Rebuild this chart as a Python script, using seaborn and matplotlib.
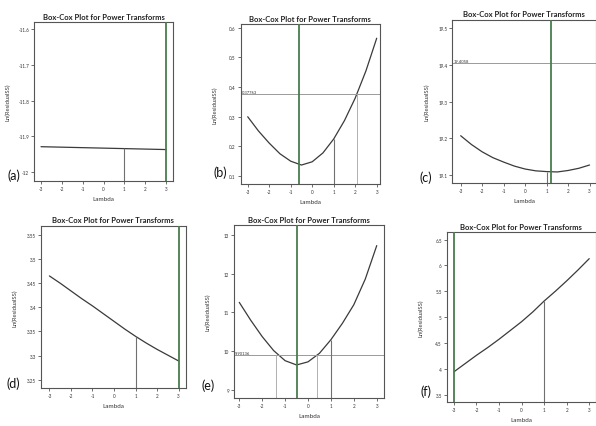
import numpy as np
import pandas as pd
import matplotlib
matplotlib.use("Agg")
import matplotlib.pyplot as plt
import seaborn as sns

# ---------------- data ----------------
lam = [-3, -2.5, -2, -1.5, -1, -0.5, 0, 0.5, 1, 1.5, 2, 2.5, 3]
lam_a = [-3, 0, 3]
ss_a = [-11.929, -11.933, -11.937]
ss_b = [0.300, 0.252, 0.211, 0.175, 0.150, 0.137, 0.148, 0.178, 0.225, 0.287, 0.363, 0.455, 0.565]
ss_c = [19.207, 19.183, 19.163, 19.147, 19.135, 19.124, 19.116, 19.111, 19.109, 19.108, 19.112, 19.118, 19.127]
ss_d = [3.465, 3.450, 3.434, 3.418, 3.403, 3.387, 3.371, 3.355, 3.340, 3.326, 3.313, 3.301, 3.289]
ss_e = [11.26, 10.80, 10.38, 10.02, 9.76, 9.65, 9.73, 9.95, 10.30, 10.72, 11.20, 11.86, 12.72]
ss_f = [3.94, 4.10, 4.26, 4.41, 4.57, 4.74, 4.91, 5.10, 5.31, 5.50, 5.70, 5.91, 6.13]

panel_labels = ["(a)", "(b)", "(c)", "(d)", "(e)", "(f)"]
best_lambda = [3, -0.62, 1.22, 3, -0.5, -3]
ref_values = [None, 0.37763, 19.4058, None, 9.90136, None]
ref_labels = [None, "0.37763", "19.4058", None, "9.90136", None]
ci_bounds = [[], [2.08], [], [], [-1.38, 0.38], []]
ss_at_one = [-11.933, 0.225, 19.109, 3.340, 10.30, 5.31]
yticks = [
    [-12, -11.9, -11.8, -11.7, -11.6],
    [0.1, 0.2, 0.3, 0.4, 0.5, 0.6],
    [19.1, 19.2, 19.3, 19.4, 19.5],
    [3.25, 3.3, 3.35, 3.4, 3.45, 3.5, 3.55],
    [9, 10, 11, 12, 13],
    [3.5, 4, 4.5, 5, 5.5, 6, 6.5],
]
ytick_labels = [
    ["-12", "-11.9", "-11.8", "-11.7", "-11.6"],
    ["0.1", "0.2", "0.3", "0.4", "0.5", "0.6"],
    ["19.1", "19.2", "19.3", "19.4", "19.5"],
    ["3.25", "3.3", "3.35", "3.4", "3.45", "3.5", "3.55"],
    ["9", "10", "11", "12", "13"],
    ["3.5", "4", "4.5", "5", "5.5", "6", "6.5"],
]
xticks = [-3, -2, -1, 0, 1, 2, 3]
xtick_labels = ["-3", "-2", "-1", "0", "1", "2", "3"]
title = "Box-Cox Plot for Power Transforms"

curves = [
    pd.DataFrame({"Lambda": lam_a, "Ln(ResidualSS)": ss_a}),
    pd.DataFrame({"Lambda": lam, "Ln(ResidualSS)": ss_b}),
    pd.DataFrame({"Lambda": lam, "Ln(ResidualSS)": ss_c}),
    pd.DataFrame({"Lambda": lam, "Ln(ResidualSS)": ss_d}),
    pd.DataFrame({"Lambda": lam, "Ln(ResidualSS)": ss_e}),
    pd.DataFrame({"Lambda": lam, "Ln(ResidualSS)": ss_f}),
]

# ---------------- layout (pixels) ----------------
W, H = 596, 427
boxes = [  # left, top, right, bottom
    (34, 23, 173, 182),
    (240.7, 25, 380, 185),
    (452.3, 20.7, 596, 184.3),
    (41, 226.7, 185.7, 389),
    (234, 226, 384.3, 399),
    (446.7, 233.3, 596, 403.3),
]
xlims = [(-3.336, 3.336), (-3.326, 3.153), (-3.39, 3.30), (-3.39, 3.33), (-3.23, 3.33), (-3.32, 3.30)]
ylims = [(-12.025, -11.58), (0.073, 0.613), (19.077, 19.524), (3.233, 3.569), (8.8, 13.25), (3.35, 6.64)]
label_pos = [(14, 176), (220, 173), (426, 178), (13, 384), (208, 386), (426, 392)]

sns.set_style("ticks")
plt.rcParams["font.family"] = ["Lato", "DejaVu Sans"]

fig = plt.figure(figsize=(W / 100, H / 100), dpi=100)
fig.patch.set_facecolor("white")

green = "#4a7d4e"
for i in range(6):
    l, t, r, b = boxes[i]
    ax = fig.add_axes([l / W, 1 - b / H, (r - l) / W, (b - t) / H])
    sns.lineplot(data=curves[i], x="Lambda", y="Ln(ResidualSS)", ax=ax,
                 color="#3a3a3a", linewidth=0.9)
    ax.set_xlim(*xlims[i])
    ax.set_ylim(*ylims[i])
    y0 = ylims[i][0]
    # green best-lambda line
    ax.axvline(best_lambda[i], color=green, linewidth=1.3, zorder=3)
    # reference line
    if ref_values[i] is not None:
        ax.axhline(ref_values[i], color="#9a9a9a", linewidth=0.7)
        ax.text(xlims[i][0] + 0.05, ref_values[i], ref_labels[i], fontsize=3,
                color="#333333", va="bottom", ha="left")
    # CI bound lines
    for cb in ci_bounds[i]:
        ax.vlines(cb, y0, ref_values[i], color="#b0b0b0", linewidth=0.7)
    # lambda = 1 line
    ax.vlines(1, y0, ss_at_one[i], color="#707070", linewidth=0.8)

    ax.set_xticks(xticks)
    ax.set_xticklabels(xtick_labels)
    ax.set_yticks(yticks[i])
    ax.set_yticklabels(ytick_labels[i])
    ax.tick_params(direction="out", length=2, width=0.5, labelsize=3.3, pad=1.5,
                   colors="#333333")
    for s in ax.spines.values():
        s.set_visible(True)
        s.set_linewidth(0.8)
        s.set_color("#555555")
    ax.set_title(title, fontsize=5.5, fontweight="bold", pad=2.5, color="#222222")
    ax.set_xlabel("Lambda", fontsize=4.5, color="#333333")
    ax.set_ylabel("Ln(ResidualSS)", fontsize=4.2, color="#333333")
    ax.xaxis.set_label_coords(0.5, -15 / (b - t))
    ax.yaxis.set_label_coords(-23 / (r - l), 0.5)
    lx, ly = label_pos[i]
    fig.text(lx / W, 1 - ly / H, panel_labels[i], fontsize=9, ha="center",
             va="center", color="#111111")

fig.savefig("out.png", dpi=100, facecolor="white")
